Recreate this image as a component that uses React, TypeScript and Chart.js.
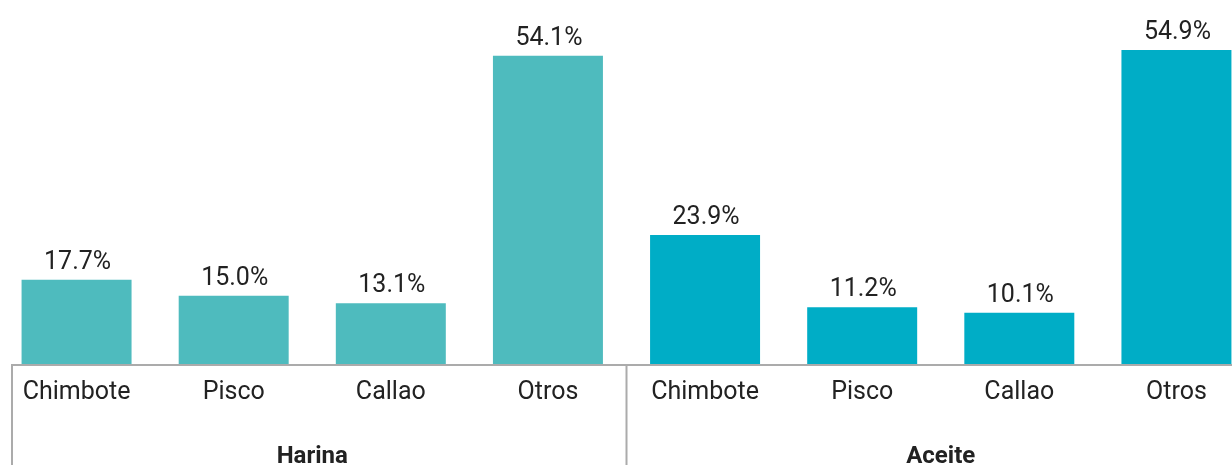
import React, { useEffect, useRef } from "react";
import { Chart, registerables } from "chart.js";

Chart.register(...registerables);

const categories = ["Chimbote", "Pisco", "Callao", "Otros", "Chimbote", "Pisco", "Callao", "Otros"];
const groups = ["Harina", "Aceite"];
// bar heights as drawn in the picture
const barValues = [14.8, 12.0, 10.7, 54.2, 22.7, 10.0, 9.0, 55.2];
// printed value labels
const valueLabels = ["17.7%", "15.0%", "13.1%", "54.1%", "23.9%", "11.2%", "10.1%", "54.9%"];
const barColors = ["#4EBBBE", "#4EBBBE", "#4EBBBE", "#4EBBBE", "#00ADC6", "#00ADC6", "#00ADC6", "#00ADC6"];

const FONT = "Roboto, 'Noto Sans', sans-serif";

const decor = {
  id: "decor",
  afterDatasetsDraw(chart: any) {
    const ctx = chart.ctx;
    const meta = chart.getDatasetMeta(0);
    const xs = chart.scales.x;
    const bottom = chart.chartArea.bottom;
    const W = chart.width;
    const H = chart.height;
    ctx.save();
    // value labels
    ctx.font = `25px ${FONT}`;
    ctx.fillStyle = "#222222";
    ctx.textAlign = "center";
    ctx.textBaseline = "alphabetic";
    meta.data.forEach((bar: any, i: number) => {
      ctx.fillText(valueLabels[i], bar.x + 1, bar.y - 11);
    });
    // axis lines
    ctx.strokeStyle = "#ABABAB";
    ctx.lineWidth = 2;
    const left = 14;
    ctx.beginPath();
    ctx.moveTo(left - 1, bottom + 1);
    ctx.lineTo(W, bottom + 1);
    ctx.moveTo(left, bottom);
    ctx.lineTo(left, H);
    const sep = (xs.getPixelForTick(3) + xs.getPixelForTick(4)) / 2;
    ctx.moveTo(sep, bottom);
    ctx.lineTo(sep, H);
    ctx.stroke();
    // group labels
    ctx.font = `bold 24px ${FONT}`;
    ctx.fillStyle = "#222222";
    const c1 = (xs.getPixelForTick(0) + xs.getPixelForTick(3)) / 2;
    const c2 = (xs.getPixelForTick(4) + xs.getPixelForTick(7)) / 2;
    ctx.fillText(groups[0], c1, 463);
    ctx.fillText(groups[1], c2, 463);
    ctx.restore();
  },
};

export default function App() {
  const ref = useRef<HTMLCanvasElement>(null);
  useEffect(() => {
    if (!ref.current) return;
    const chart = new Chart(ref.current, {
      type: "bar",
      data: {
        labels: categories,
        datasets: [
          {
            data: barValues,
            backgroundColor: barColors,
            barPercentage: 1,
            categoryPercentage: 0.7,
          },
        ],
      },
      options: {
        responsive: false,
        animation: false,
        devicePixelRatio: 1,
        layout: { padding: 0 },
        plugins: { legend: { display: false }, tooltip: { enabled: false } },
        scales: {
          x: {
            grid: { display: false, drawTicks: false },
            border: { display: false },
            ticks: {
              color: "#222222",
              font: { family: FONT, size: 25 },
              padding: 14,
              maxRotation: 0,
              autoSkip: false,
            },
            afterFit: (s: any) => {
              s.height = 101;
            },
          },
          y: {
            display: false,
            min: 0,
            max: 64,
          },
        },
      },
      plugins: [decor],
    });
    return () => chart.destroy();
  }, []);
  return (
    <div style={{ position: "fixed", left: 0, top: 0, width: 1232, height: 465, overflow: "hidden", background: "#fff" }}>
      <canvas ref={ref} width={1257} height={465} style={{ position: "absolute", left: -2, top: 0 }} />
    </div>
  );
}
